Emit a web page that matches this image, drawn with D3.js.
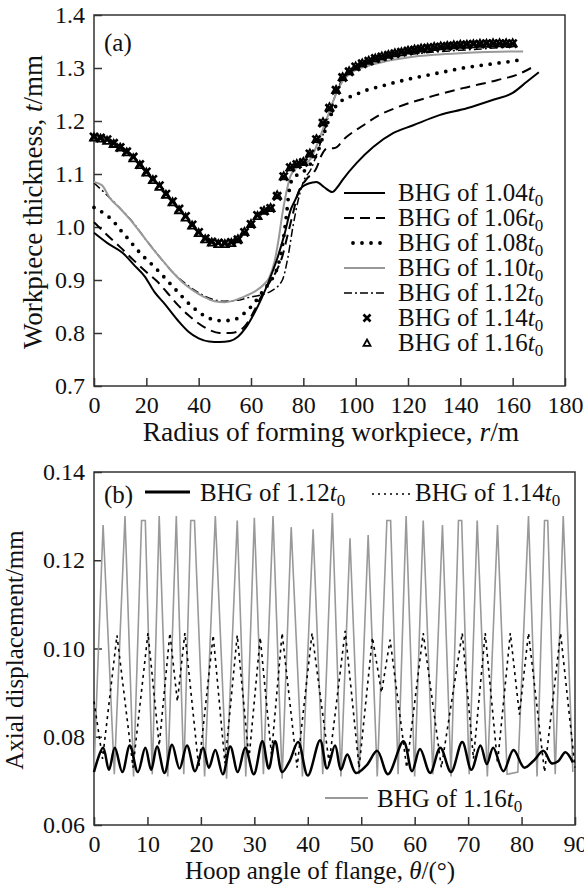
<!DOCTYPE html>
<html>
<head>
<meta charset="utf-8">
<script src="https://cdn.jsdelivr.net/npm/d3@7"></script>
<style>
  body { margin: 0; background: #fff; }
  text { font-family: "Liberation Serif", "Times New Roman", serif; fill: #111; }
</style>
</head>
<body>
<script>
// Chart size
var w = 584,
    h = 888,
    fs = 25; // legend font size

// ---- panel (a): workpiece thickness vs radius, [r, t] ----
var bhg104 = [[0,0.989],[5,0.970],[11,0.951],[15,0.930],[19.5,0.906],[23,0.878],[27,0.855],[32,0.824],[36,0.803],[40,0.790],[44,0.784],[48,0.783],[52,0.785],[55,0.793],[58,0.810],[61,0.835],[64,0.865],[67,0.900],[70,0.940],[73,0.990],[75,1.030],[77,1.052],[79,1.073],[82,1.082],[85,1.085],[88,1.075],[91,1.066],[93,1.075],[95,1.089],[100.4,1.121],[106.7,1.151],[114.3,1.177],[122,1.192],[132,1.211],[142.5,1.224],[152.6,1.240],[160,1.253],[165.4,1.274],[170,1.292]];
var bhg106 = [[0,1.009],[5,0.985],[10,0.962],[15,0.938],[20,0.915],[24,0.898],[28,0.876],[32,0.853],[36,0.834],[40,0.818],[44,0.806],[48,0.800],[52,0.800],[55,0.803],[58,0.815],[61,0.840],[64,0.870],[67,0.895],[70,0.920],[72,0.945],[74,0.985],[76,1.025],[78,1.064],[81,1.089],[85,1.111],[87,1.136],[89,1.148],[92,1.149],[96,1.168],[103,1.192],[109,1.211],[116,1.226],[128,1.245],[141,1.262],[154,1.277],[162,1.288],[167,1.300]];
var bhg108 = [[0,1.037],[4,1.025],[7,1.013],[10,0.995],[13,0.978],[16,0.960],[19,0.944],[22,0.930],[25,0.915],[28,0.899],[31,0.883],[34,0.867],[37,0.852],[40,0.840],[43,0.830],[46,0.825],[49,0.823],[52,0.824],[55,0.828],[58,0.840],[61,0.855],[64,0.875],[67,0.895],[69,0.910],[70.5,0.930],[72,0.965],[73.5,1.020],[74.5,1.065],[76,1.092],[80,1.104],[83,1.121],[85,1.136],[87.5,1.170],[90,1.205],[92,1.225],[94,1.236],[97,1.244],[100,1.250],[104,1.258],[110,1.266],[116,1.274],[122,1.281],[128,1.287],[134,1.293],[141,1.300],[148,1.305],[154,1.309],[160,1.313],[165,1.317]];
var bhg110 = [[0,1.085],[3,1.079],[6,1.055],[10,1.035],[14,1.013],[18,0.988],[22,0.962],[26,0.938],[30,0.915],[34,0.895],[38,0.880],[42,0.868],[46,0.860],[50,0.858],[54,0.862],[58,0.870],[62,0.880],[65,0.892],[67,0.905],[69,0.935],[70.5,0.975],[72,1.025],[73.5,1.065],[75,1.095],[77,1.110],[80,1.118],[83,1.130],[86,1.165],[89,1.205],[92,1.245],[95,1.275],[98,1.290],[102,1.300],[106,1.306],[110,1.311],[115,1.316],[120,1.320],[130,1.325],[140,1.328],[150,1.330],[160,1.331],[164,1.331]];
var bhg112 = [[0,1.083],[5,1.060],[10,1.035],[15,1.008],[20,0.975],[25,0.944],[30,0.915],[35,0.893],[40,0.876],[45,0.864],[50,0.860],[55,0.862],[60,0.868],[64,0.872],[68,0.880],[72,0.900],[74,0.940],[76,1.000],[78,1.050],[80,1.085],[83,1.110],[86,1.150],[90,1.215],[94,1.270],[98,1.290],[105,1.310],[115,1.322],[130,1.330],[145,1.335],[160,1.340]];
var bhg114 = [[0,1.170],[2.5,1.168],[5,1.165],[7.5,1.158],[10,1.150],[12.5,1.142],[15,1.132],[17.5,1.118],[20,1.104],[22.5,1.090],[25,1.078],[27.5,1.062],[30,1.048],[32.5,1.034],[35,1.020],[37.5,1.004],[40,0.990],[42.5,0.978],[45,0.972],[47.5,0.970],[50,0.969],[52.5,0.971],[55,0.976],[57.5,0.990],[60,1.005],[62.5,1.022],[65,1.030],[67.5,1.035],[70,1.058],[72.5,1.095],[75,1.112],[77.5,1.118],[80,1.122],[82.5,1.138],[85,1.165],[87.5,1.196],[90,1.224],[92.5,1.258],[95,1.282],[97.5,1.293],[100,1.302],[102.5,1.308],[105,1.313],[107.5,1.318],[110,1.321],[112.5,1.324],[115,1.327],[117.5,1.330],[120,1.332],[122.5,1.334],[125,1.336],[127.5,1.338],[130,1.339],[132.5,1.340],[135,1.341],[137.5,1.342],[140,1.343],[142.5,1.344],[145,1.345],[147.5,1.345],[150,1.346],[152.5,1.346],[155,1.346],[157.5,1.346],[160,1.346]];
var bhg116 = [[0,1.169],[2.5,1.167],[5,1.163],[7.5,1.157],[10,1.150],[12.5,1.141],[15,1.130],[17.5,1.117],[20,1.103],[22.5,1.089],[25,1.076],[27.5,1.061],[30,1.047],[32.5,1.032],[35,1.018],[37.5,1.003],[40,0.989],[42.5,0.977],[45,0.971],[47.5,0.968],[50,0.968],[52.5,0.970],[55,0.977],[57.5,0.991],[60,1.006],[62.5,1.021],[65,1.031],[67.5,1.036],[70,1.060],[72.5,1.096],[75,1.113],[77.5,1.119],[80,1.123],[82.5,1.139],[85,1.166],[87.5,1.198],[90,1.226],[92.5,1.259],[95,1.283],[97.5,1.294],[100,1.303],[102.5,1.309],[105,1.314],[107.5,1.318],[110,1.322],[112.5,1.325],[115,1.328],[117.5,1.330],[120,1.333],[122.5,1.335],[125,1.337],[127.5,1.338],[130,1.340],[132.5,1.341],[135,1.342],[137.5,1.343],[140,1.344],[142.5,1.344],[145,1.345],[147.5,1.346],[150,1.346],[152.5,1.347],[155,1.347],[157.5,1.347],[160,1.347]];
var legendA = ["1.04", "1.06", "1.08", "1.10", "1.12", "1.14", "1.16"];
var xTicksA = [0, 20, 40, 60, 80, 100, 120, 140, 160, 180];
var yTicksA = [0.7, 0.8, 0.9, 1.0, 1.1, 1.2, 1.3, 1.4];

// ---- panel (b): axial displacement vs hoop angle, [theta, mm] ----
var disp112 = [[0,0.0720],[1.7,0.0775],[2.8,0.0725],[3.9,0.0775],[5.3,0.0720],[6.7,0.0780],[8.2,0.0720],[9.6,0.0775],[10.7,0.0725],[11.8,0.0778],[13.2,0.0718],[14.6,0.0782],[16.0,0.0728],[17.4,0.0780],[18.9,0.0722],[20.4,0.0775],[21.5,0.0730],[22.7,0.0770],[24.1,0.0715],[25.5,0.0778],[26.9,0.0720],[28.3,0.0775],[29.9,0.0715],[31.5,0.0790],[32.7,0.0728],[33.9,0.0790],[35.2,0.0720],[36.6,0.0745],[38.2,0.0788],[40.0,0.0712],[42.3,0.0792],[43.6,0.0728],[45.1,0.0780],[46.2,0.0725],[47.4,0.0760],[49.0,0.0718],[51.0,0.0735],[53.0,0.0768],[55.0,0.0715],[57.9,0.0790],[59.5,0.0722],[61.0,0.0772],[62.9,0.0718],[64.8,0.0775],[66.8,0.0720],[68.9,0.0788],[70.6,0.0725],[72.3,0.0780],[73.5,0.0738],[74.7,0.0775],[76.6,0.0722],[78.5,0.0770],[80.5,0.0730],[82.2,0.0745],[84.1,0.0768],[85.6,0.0740],[86.9,0.0745],[88.2,0.0765],[89.6,0.0742]];
var disp114 = [[0,0.0880],[1.6,0.0750],[4.3,0.1030],[7.3,0.0730],[10.1,0.1035],[12.2,0.0780],[14.2,0.1035],[15.6,0.0880],[17.0,0.1035],[19.6,0.0730],[22.3,0.1030],[24.5,0.0740],[26.8,0.1030],[29.0,0.0750],[31.1,0.1025],[33.2,0.0760],[35.2,0.1035],[38.0,0.0730],[40.8,0.1035],[44.0,0.0740],[47.0,0.1040],[49.6,0.0730],[52.1,0.1025],[53.8,0.0900],[55.4,0.1020],[58.5,0.0730],[61.6,0.1035],[65.0,0.0730],[68.9,0.1035],[71.0,0.0750],[73.2,0.1035],[75.5,0.0740],[77.9,0.1035],[79.6,0.0850],[81.3,0.1035],[84.3,0.0720],[87.3,0.1035],[90,0.0730]];
var disp116 = [[0,0.0725],[1.7,0.1280],[3.8,0.0715],[5.8,0.1300],[7.4,0.0710],[8.9,0.1290],[9.6,0.1290],[10.9,0.0715],[12.2,0.1300],[13.8,0.0710],[15.4,0.1300],[16.8,0.0715],[18.1,0.1290],[18.8,0.1290],[20.7,0.0710],[22.7,0.1300],[24.8,0.0705],[26.8,0.1290],[28.4,0.0710],[30.0,0.1296],[31.7,0.0715],[33.5,0.1300],[35.2,0.0705],[36.9,0.1275],[39.0,0.0710],[41.0,0.1270],[42.8,0.0715],[44.6,0.1307],[46.2,0.0710],[47.9,0.1250],[49.6,0.0715],[51.3,0.1257],[53.0,0.0710],[54.8,0.1290],[55.5,0.1290],[56.9,0.0715],[58.4,0.1300],[60.0,0.0710],[61.6,0.1290],[63.4,0.0715],[65.2,0.1280],[66.8,0.0710],[68.2,0.1290],[68.8,0.1290],[70.2,0.0715],[71.7,0.1290],[73.6,0.0710],[75.5,0.1280],[77.3,0.0715],[79.3,0.0720],[81.3,0.1300],[82.9,0.0710],[84.3,0.1290],[84.9,0.1290],[86.3,0.0715],[87.8,0.1300],[89.6,0.0720]];
var xTicksB = [0, 10, 20, 30, 40, 50, 60, 70, 80, 90];
var yTicksB = [0.06, 0.08, 0.10, 0.12, 0.14];

// Scales
var xA = d3.scaleLinear().domain([0, 180]).range([94, 565]);
var yA = d3.scaleLinear().domain([0.7, 1.4]).range([386, 15]);
var xB = d3.scaleLinear().domain([0, 90]).range([94, 575]);
var yB = d3.scaleLinear().domain([0.06, 0.14]).range([825, 472]);

var svg = d3.select('body')
            .append('svg')
            .attr('width', w)
            .attr('height', h);

svg.append('rect').attr('width', w).attr('height', h).attr('fill', '#fff');

// draws inward-ticked axes, the frame is a separate rect
function drawAxes(xs, ys, xt, yt, xfmt, yfmt) {
  var gx = svg.append('g')
     .attr('transform', 'translate(0,' + ys.range()[0] + ')')
     .call(d3.axisBottom(xs).tickValues(xt).tickFormat(xfmt)
             .tickSize(-8).tickSizeOuter(0).tickPadding(10));
  var gy = svg.append('g')
     .attr('transform', 'translate(' + xs.range()[0] + ',0)')
     .call(d3.axisLeft(ys).tickValues(yt).tickFormat(yfmt)
             .tickSize(-8).tickSizeOuter(0).tickPadding(9));
  [gx, gy].forEach(function(g) {
    g.select('.domain').remove();
    g.selectAll('line').attr('stroke', '#333').attr('stroke-width', 1.5);
    g.selectAll('text').attr('font-size', 24)
     .attr('font-family', '"Liberation Serif", serif').attr('fill', '#111');
  });
  svg.append('rect')
     .attr('x', xs.range()[0]).attr('y', ys.range()[1])
     .attr('width', xs.range()[1] - xs.range()[0])
     .attr('height', ys.range()[0] - ys.range()[1])
     .attr('fill', 'none').attr('stroke', '#333').attr('stroke-width', 1.5);
}

drawAxes(xA, yA, xTicksA, yTicksA, d3.format('d'), d3.format('.1f'));
drawAxes(xB, yB, xTicksB, yTicksB, d3.format('d'), d3.format('.2f'));

// ---- panel (a) lines ----
var lineA = d3.line()
  .x(function(d) { return xA(d[0]); })
  .y(function(d) { return yA(d[1]); })
  .curve(d3.curveMonotoneX);

var stylesA = [
  {data: bhg104, color: '#000', width: 2, dash: null},
  {data: bhg106, color: '#000', width: 2, dash: '10,6'},
  {data: bhg108, color: '#000', width: 3.8, dash: '0,9', cap: 'round'},
  {data: bhg110, color: '#999', width: 2, dash: null},
  {data: bhg112, color: '#000', width: 1.5, dash: '8,3,2,3'}
];

// draw 1.12 first so the others lie over it
[4, 3, 0, 1, 2].forEach(function(i) {
  var s = stylesA[i];
  svg.append('path')
     .datum(s.data)
     .attr('d', lineA)
     .attr('fill', 'none')
     .attr('stroke', s.color)
     .attr('stroke-width', s.width)
     .attr('stroke-dasharray', s.dash)
     .attr('stroke-linecap', s.cap || 'butt');
});

function cross(g, x, y, r) {
  g.append('path')
   .attr('d', 'M' + (x - r) + ',' + (y - r) + 'L' + (x + r) + ',' + (y + r) +
              'M' + (x - r) + ',' + (y + r) + 'L' + (x + r) + ',' + (y - r))
   .attr('stroke', '#000').attr('stroke-width', 2.6).attr('fill', 'none');
}
function tri(g, x, y, r) {
  g.append('path')
   .attr('d', 'M' + x + ',' + (y - r) + 'L' + (x + r) + ',' + (y + r * 0.8) +
              'L' + (x - r) + ',' + (y + r * 0.8) + 'Z')
   .attr('stroke', '#000').attr('stroke-width', 1.8).attr('fill', 'none');
}

var gm = svg.append('g');
bhg114.forEach(function(d) { cross(gm, xA(d[0]), yA(d[1]), 4); });
bhg116.forEach(function(d) { tri(gm, xA(d[0]), yA(d[1]), 4); });

// label (a)
svg.append('text').attr('x', 104).attr('y', 51).attr('font-size', fs).text('(a)');

// legend (a)
var legY = [193, 218, 243, 268, 293, 318, 343];
legendA.forEach(function(lab, i) {
  var y = legY[i];
  if (i < 5) {
    var s = stylesA[i];
    svg.append('line')
       .attr('x1', i === 2 ? 353 : 344).attr('x2', 385)
       .attr('y1', y).attr('y2', y)
       .attr('stroke', s.color).attr('stroke-width', s.width)
       .attr('stroke-dasharray', s.dash).attr('stroke-linecap', s.cap || 'butt');
  } else if (i === 5) {
    cross(svg, 367, y, 3.5);
  } else {
    tri(svg, 367, y, 3.5);
  }
  var t = svg.append('text').attr('x', 398).attr('y', y + 8).attr('font-size', fs);
  t.append('tspan').text('BHG of ' + lab);
  t.append('tspan').attr('font-style', 'italic').text('t');
  t.append('tspan').attr('font-size', 17).attr('dy', 5).text('0');
});

// axis titles (a)
var tx = svg.append('text').attr('x', 331).attr('y', 441)
            .attr('text-anchor', 'middle').attr('font-size', 27.5);
tx.append('tspan').text('Radius of forming workpiece, ');
tx.append('tspan').attr('font-style', 'italic').text('r');
tx.append('tspan').text('/m');

var ty = svg.append('text').attr('transform', 'translate(42,202) rotate(-90)')
            .attr('text-anchor', 'middle').attr('font-size', 27);
ty.append('tspan').text('Workpiece thickness, ');
ty.append('tspan').attr('font-style', 'italic').text('t');
ty.append('tspan').text('/mm');

// ---- panel (b) lines ----
var lineB = d3.line()
  .x(function(d) { return xB(d[0]); })
  .y(function(d) { return yB(d[1]); });

svg.append('path').datum(disp116).attr('d', lineB)
   .attr('fill', 'none').attr('stroke', '#999').attr('stroke-width', 1.6);
svg.append('path').datum(disp114).attr('d', lineB)
   .attr('fill', 'none').attr('stroke', '#000').attr('stroke-width', 1.6)
   .attr('stroke-dasharray', '3,4');
svg.append('path').datum(disp112).attr('d', lineB.curve(d3.curveCatmullRom))
   .attr('fill', 'none').attr('stroke', '#000').attr('stroke-width', 2.5);

// legend (b)
svg.append('text').attr('x', 104).attr('y', 503).attr('font-size', fs).text('(b)');
svg.append('line').attr('x1', 145).attr('x2', 190).attr('y1', 492).attr('y2', 492)
   .attr('stroke', '#000').attr('stroke-width', 3);
svg.append('line').attr('x1', 372).attr('x2', 413).attr('y1', 494).attr('y2', 494)
   .attr('stroke', '#000').attr('stroke-width', 1.6).attr('stroke-dasharray', '2,4');
svg.append('line').attr('x1', 325).attr('x2', 368).attr('y1', 798).attr('y2', 798)
   .attr('stroke', '#999').attr('stroke-width', 2);

function bhgLabel(x, y, lab) {
  var t = svg.append('text').attr('x', x).attr('y', y).attr('font-size', fs);
  t.append('tspan').text('BHG of ' + lab);
  t.append('tspan').attr('font-style', 'italic').text('t');
  t.append('tspan').attr('font-size', 17).attr('dy', 5).text('0');
}
bhgLabel(200, 501, '1.12');
bhgLabel(415, 501, '1.14');
bhgLabel(377, 807, '1.16');

// axis titles (b)
var bx = svg.append('text').attr('x', 320).attr('y', 879)
            .attr('text-anchor', 'middle').attr('font-size', fs);
bx.append('tspan').text('Hoop angle of flange, ');
bx.append('tspan').attr('font-style', 'italic').text('θ');
bx.append('tspan').text('/(°)');

svg.append('text').attr('transform', 'translate(23,650) rotate(-90)')
   .attr('text-anchor', 'middle').attr('font-size', 25)
   .text('Axial displacement/mm');
</script>
</body>
</html>
